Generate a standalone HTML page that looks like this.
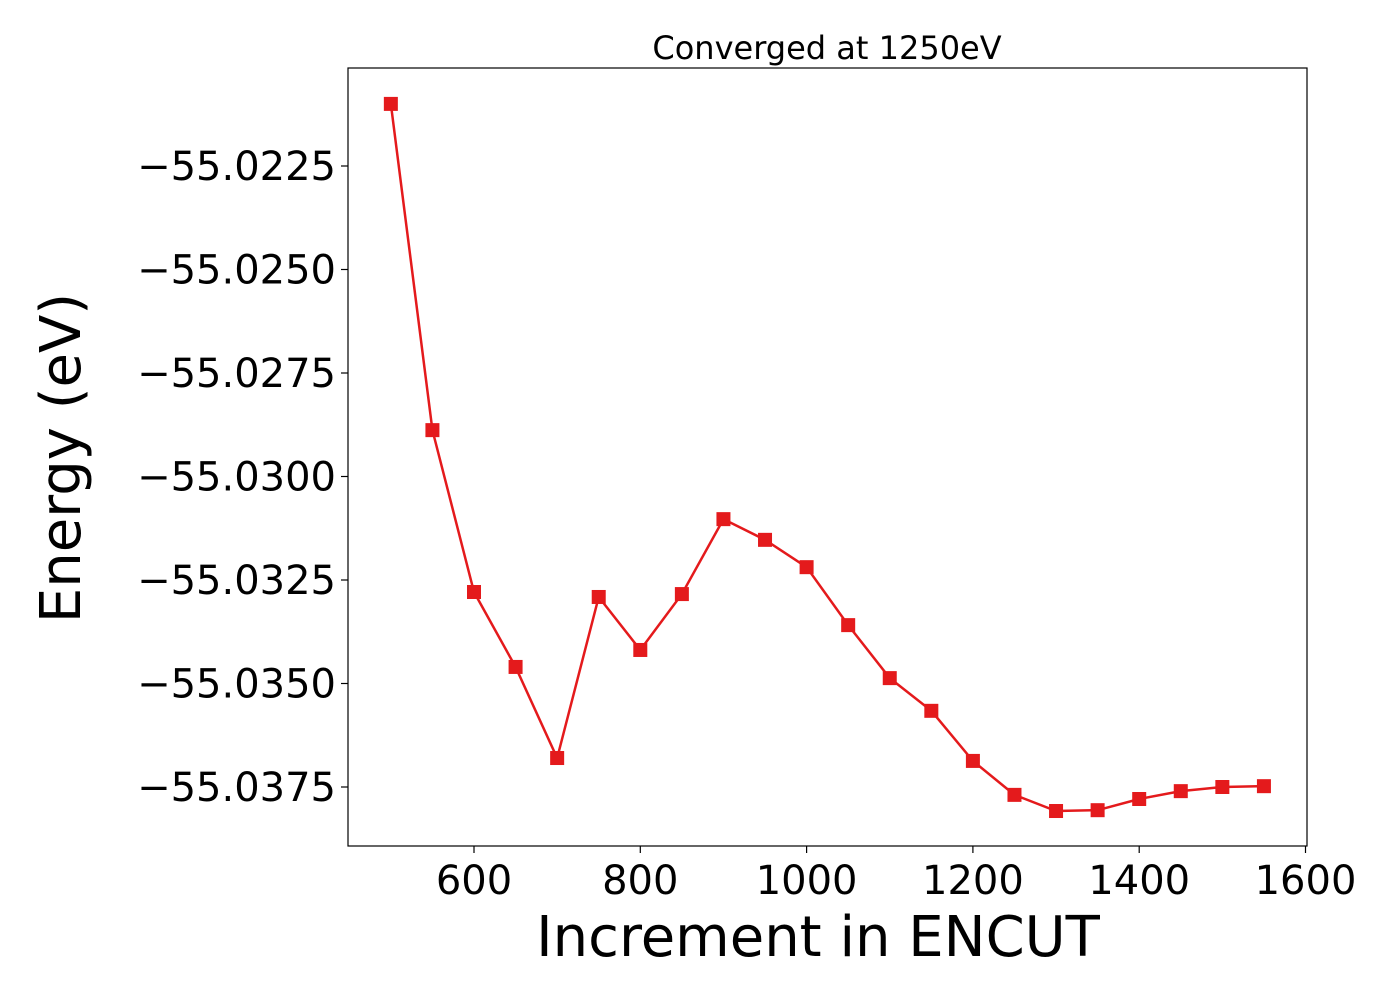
<!DOCTYPE html>
<html><head><meta charset="utf-8"><style>
body{margin:0;background:#fff;}
svg text{font-family:"DejaVu Sans","Liberation Sans",sans-serif;fill:#000;}
</style></head><body>
<svg id="chart" width="1400" height="1000">
<text x="827" y="59" font-size="32" text-anchor="middle">Converged at 1250eV</text>
<rect x="348" y="68" width="959" height="778" fill="none" stroke="#000" stroke-width="1.2"/>
<g id="xticks"></g>
<g id="yticks"></g>
<g id="series"></g>
<text x="818" y="956" font-size="56" text-anchor="middle">Increment in ENCUT</text>
<text transform="translate(80,458) rotate(-90)" font-size="56" text-anchor="middle">Energy (eV)</text>
</svg>
<script>
const encut=[500,550,600,650,700,750,800,850,900,950,1000,1050,1100,1150,1200,1250,1300,1350,1400,1450,1500,1550];
const energy=[-55.02100,-55.02888,-55.03279,-55.03460,-55.03680,-55.03291,-55.03419,-55.03284,-55.03103,-55.03153,-55.03219,-55.03359,-55.03487,-55.03566,-55.03687,-55.03769,-55.03808,-55.03806,-55.03779,-55.03760,-55.03750,-55.03748];
const xTicks=[600,800,1000,1200,1400,1600];
const yTicks=[-55.0225,-55.0250,-55.0275,-55.0300,-55.0325,-55.0350,-55.0375];
const yLabels=["\u221255.0225","\u221255.0250","\u221255.0275","\u221255.0300","\u221255.0325","\u221255.0350","\u221255.0375"];
const NS="http://www.w3.org/2000/svg";
const xs=v=>474+(v-600)*(166.3/200);
const ys=v=>166+(-55.0225-v)/0.0025*103.5;
const mk=(t,a,p)=>{const e=document.createElementNS(NS,t);for(const k in a)e.setAttribute(k,a[k]);p.appendChild(e);return e;};
const gx=document.getElementById('xticks'),gy=document.getElementById('yticks'),gs=document.getElementById('series');
xTicks.forEach(v=>{
 const l=mk('line',{x1:xs(v),x2:xs(v),y1:846,y2:853,stroke:'#000','stroke-width':1.2},gx);
 
 
 const t=mk('text',{x:xs(v),y:894,'font-size':40,'text-anchor':'middle'},gx);
 t.textContent=v;
 
 
});
yTicks.forEach((v,i)=>{
 const l=mk('line',{x1:341,x2:348,y1:ys(v),y2:ys(v),stroke:'#000','stroke-width':1.2},gy);
 
 
 const t=mk('text',{x:336,y:ys(v)+14,'font-size':40,'text-anchor':'end'},gy);
 t.textContent=yLabels[i];
 
 
});
const pl=mk('polyline',{points:encut.map((v,i)=>xs(v)+','+ys(energy[i])).join(' '),fill:'none',stroke:'#e41a1c','stroke-width':2.5},gs);


encut.forEach((v,i)=>{
 const r=mk('rect',{x:xs(v)-7,y:ys(energy[i])-7,width:14,height:14,fill:'#e41a1c'},gs);
 
 
});
</script>
</body></html>
